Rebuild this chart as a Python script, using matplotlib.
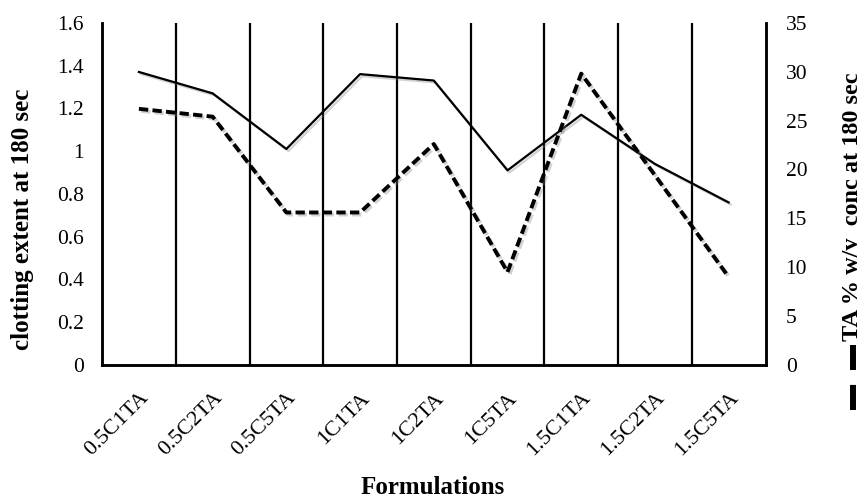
import numpy as np
import matplotlib
matplotlib.use("Agg")
import matplotlib.pyplot as plt
import matplotlib.patheffects as pe
import matplotlib.transforms as mtransforms
from matplotlib.lines import Line2D

plt.rcParams['font.family'] = ['Liberation Serif', 'DejaVu Serif']

formulations = ['0.5C1TA', '0.5C2TA', '0.5C5TA', '1C1TA', '1C2TA',
                '1C5TA', '1.5C1TA', '1.5C2TA', '1.5C5TA']
clotting = [1.37, 1.27, 1.01, 1.36, 1.33, 0.91, 1.17, 0.94, 0.76]
ta_conc = [26.2, 25.4, 15.6, 15.6, 22.6, 9.5, 29.8, 19.4, 9.0]

left_ticks = [0, 0.2, 0.4, 0.6, 0.8, 1, 1.2, 1.4, 1.6]
left_labels = ['0', '0.2', '0.4', '0.6', '0.8', '1', '1.2', '1.4', '1.6']
right_ticks = [0, 5, 10, 15, 20, 25, 30, 35]

fig = plt.figure(figsize=(8.65, 5.01), dpi=100)
ax = fig.add_axes([0.118, 0.2715, 0.767, 0.683])
ax2 = ax.twinx()

x = np.arange(len(formulations))
shadow = [pe.SimpleLineShadow(offset=(1.5, -1.5), shadow_color='gray', alpha=0.35),
          pe.Normal()]

ax.plot(x, clotting, color='black', lw=1.6, path_effects=shadow, zorder=3)
ax2.plot(x, ta_conc, color='black', lw=2.8, dashes=(2.4, 1.1),
         path_effects=shadow, zorder=3)

ax.set_xlim(-0.5, len(formulations) - 0.5)
ax.set_ylim(0, 1.6)
ax2.set_ylim(0, 35)

# category separators
for b in np.arange(0.5, len(formulations) - 0.5, 1):
    ax.axvline(b, color='black', lw=1.6, zorder=1)

ax.set_xticks(x)
ax.set_xticklabels(formulations, rotation=45, ha='right',
                   rotation_mode='anchor', fontsize=16)
shift = mtransforms.ScaledTranslation(-0.06, 0, fig.dpi_scale_trans)
for lab in ax.get_xticklabels():
    lab.set_transform(lab.get_transform() + shift)
ax.set_yticks(left_ticks)
ax.set_yticklabels(left_labels, fontsize=15.5)
ax2.set_yticks(right_ticks)
ax2.set_yticklabels([str(t) for t in right_ticks], fontsize=15.5)

ax.tick_params(axis='y', length=0, pad=13)
ax.tick_params(axis='x', length=0, pad=17)
ax2.tick_params(axis='y', length=0, pad=14.5)

for a in (ax, ax2):
    a.spines['top'].set_visible(False)
    for s in ('left', 'right', 'bottom'):
        a.spines[s].set_linewidth(1.8)

fig.text(23 / 865, 1 - 219 / 501, 'clotting extent at 180 sec', rotation=90,
         fontsize=18, fontweight='bold', ha='center', va='center')
fig.text(433 / 865, 0.003, 'Formulations', fontsize=18, fontweight='bold',
         ha='center', va='bottom')

fig.text(853 / 865, 1 - 207 / 501, 'TA % w/v  conc at 180 sec', rotation=90,
         fontsize=17.5, fontweight='bold', ha='center', va='center')
fig.add_artist(Line2D([853 / 865, 853 / 865], [1 - 410 / 501, 1 - 345 / 501],
                      color='black', lw=4.3, dashes=(4.2, 2.5),
                      transform=fig.transFigure))

fig.savefig('out.png', dpi=100)
